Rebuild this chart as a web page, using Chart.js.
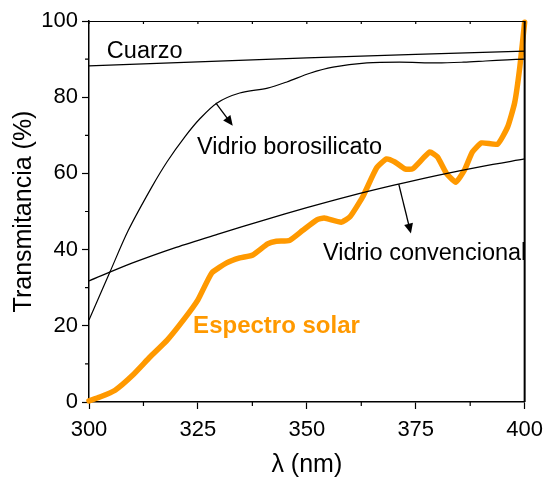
<!DOCTYPE html>
<html>
<head>
<meta charset="utf-8">
<script src="https://cdn.jsdelivr.net/npm/chart.js@4.4.1/dist/chart.umd.min.js"></script>
<style>
  body { margin: 0; background: #fff; }
</style>
</head>
<body>
<canvas id="myChart" width="551" height="480"></canvas>
<script>
// datos
const cuarzoX = [300, 350, 400];
const cuarzoY = [88.2, 90.3, 92.1];

const boroX = [300, 304.8, 309, 314.4, 318, 322, 325.5, 329.4, 334.6, 341, 345.4, 350.7, 356, 363.8, 371.3, 380, 386, 391, 396, 400];
const boroY = [21.5, 34.1, 45, 56.4, 63.2, 69.6, 74.4, 78.5, 81.1, 82.4, 84, 86.3, 87.9, 89, 89.2, 89, 89.2, 89.5, 89.8, 90];

const convX = [300, 310, 320, 330, 340, 350, 360, 370, 380, 390, 400];
const convY = [31.8, 36.5, 40.6, 44.2, 47.7, 51, 54.1, 56.9, 59.5, 61.8, 63.8];

const solarX = [300, 302.5, 306, 310, 314, 318, 322, 325, 328.2, 331.6, 334.6, 337.6, 341, 343, 346, 349, 352.3, 354, 357.9, 359.9, 362.8, 366, 368.3, 370.2, 372.5, 374.3, 378.2, 380, 382, 384.2, 386.2, 388, 390.1, 393.8, 396.1, 397.7, 398.9, 400];
const solarY = [0.3, 1.3, 3.1, 7, 11.8, 16.3, 22, 26.8, 33.9, 36.5, 37.8, 38.6, 41.5, 42.2, 42.4, 45, 47.8, 48.3, 47.2, 48.6, 53.8, 61.4, 63.8, 63, 61.2, 61.2, 65.6, 64.3, 60.1, 57.7, 60.9, 65.6, 68, 67.7, 72.2, 78.5, 88, 99.7];

const xTicks = [300, 325, 350, 375, 400];
const xMinor = [312.5, 337.5, 362.5, 387.5];
const yTicks = [0, 20, 40, 60, 80, 100];
const yMinor = [10, 30, 50, 70, 90];

// textos y flechas (coordenadas de datos)
const labels = [
    { text: 'Cuarzo', x: 304.1, y: 91.9, color: '#000', bold: false },
    { text: 'Vidrio borosilicato', x: 324.8, y: 66.9, color: '#000', bold: false },
    { text: 'Vidrio convencional', x: 353.7, y: 39.1, color: '#000', bold: false },
    { text: 'Espectro solar', x: 323.9, y: 19.9, color: 'rgb(255,153,0)', bold: true }
];
const arrows = [
    { x1: 329.1, y1: 78.5, x2: 333.0, y2: 72.5 },
    { x1: 371.1, y1: 57.2, x2: 373.9, y2: 44.2 }
];

const FONT = "'Liberation Sans', Arial, sans-serif";

function pts(xs, ys) {
    return xs.map((x, i) => ({ x: x, y: ys[i] }));
}

const extras = {
    id: 'extras',
    afterDraw(chart) {
        const ctx = chart.ctx;
        const xs = chart.scales.x, ys = chart.scales.y;
        const a = chart.chartArea;
        ctx.save();
        ctx.strokeStyle = '#000';
        // marco superior y derecho
        ctx.lineWidth = 1;
        ctx.beginPath();
        ctx.moveTo(a.left, a.top + 0.5);
        ctx.lineTo(a.right, a.top + 0.5);
        ctx.stroke();
        ctx.lineWidth = 2;
        ctx.beginPath();
        ctx.moveTo(a.right, a.top);
        ctx.lineTo(a.right, a.bottom);
        ctx.stroke();
        // ticks menores
        ctx.lineWidth = 1.2;
        ctx.beginPath();
        xMinor.forEach(v => {
            const px = xs.getPixelForValue(v);
            ctx.moveTo(px, a.bottom);
            ctx.lineTo(px, a.bottom + 4);
        });
        yMinor.forEach(v => {
            const py = ys.getPixelForValue(v);
            ctx.moveTo(a.left, py);
            ctx.lineTo(a.left - 4, py);
        });
        // ticks arriba hacia dentro
        xTicks.concat(xMinor).forEach(v => {
            const px = xs.getPixelForValue(v);
            ctx.moveTo(px, a.top);
            ctx.lineTo(px, a.top + 3);
        });
        ctx.stroke();
        // flechas
        ctx.lineWidth = 1.3;
        ctx.fillStyle = '#000';
        arrows.forEach(r => {
            const x1 = xs.getPixelForValue(r.x1), y1 = ys.getPixelForValue(r.y1);
            const x2 = xs.getPixelForValue(r.x2), y2 = ys.getPixelForValue(r.y2);
            const ang = Math.atan2(y2 - y1, x2 - x1);
            ctx.beginPath();
            ctx.moveTo(x1, y1);
            ctx.lineTo(x2 - 6 * Math.cos(ang), y2 - 6 * Math.sin(ang));
            ctx.stroke();
            ctx.beginPath();
            ctx.moveTo(x2, y2);
            ctx.lineTo(x2 - 10 * Math.cos(ang) + 4.5 * Math.sin(ang), y2 - 10 * Math.sin(ang) - 4.5 * Math.cos(ang));
            ctx.lineTo(x2 - 10 * Math.cos(ang) - 4.5 * Math.sin(ang), y2 - 10 * Math.sin(ang) + 4.5 * Math.cos(ang));
            ctx.closePath();
            ctx.fill();
        });
        // textos
        ctx.textAlign = 'left';
        ctx.textBaseline = 'middle';
        labels.forEach(l => {
            ctx.font = (l.bold ? 'bold 24px ' : '23.5px ') + FONT;
            ctx.fillStyle = l.color;
            ctx.fillText(l.text, xs.getPixelForValue(l.x), ys.getPixelForValue(l.y));
        });
        ctx.restore();
    }
};

const lineBase = { showLine: true, pointRadius: 0, fill: false, tension: 0.3 };

const config = {
    type: 'scatter',
    data: {
        datasets: [
            Object.assign({ label: 'Cuarzo', data: pts(cuarzoX, cuarzoY), borderColor: '#000', borderWidth: 1.2 }, lineBase),
            Object.assign({ label: 'Vidrio borosilicato', data: pts(boroX, boroY), borderColor: '#000', borderWidth: 1.2 }, lineBase),
            Object.assign({ label: 'Vidrio convencional', data: pts(convX, convY), borderColor: '#000', borderWidth: 1.3 }, lineBase),
            Object.assign({}, lineBase, { label: 'Espectro solar', data: pts(solarX, solarY), borderColor: 'rgb(255,153,0)', borderWidth: 5.5, tension: 0.15, borderJoinStyle: 'round', borderCapStyle: 'round', clip: 4 })
        ]
    },
    options: {
        responsive: false,
        animation: false,
        maintainAspectRatio: false,
        layout: { padding: { top: 21, right: 26, left: 0, bottom: 0 } },
        plugins: { legend: { display: false }, tooltip: { enabled: false } },
        scales: {
            x: {
                type: 'linear', min: 300, max: 400,
                afterBuildTicks: s => { s.ticks = xTicks.map(v => ({ value: v })); },
                afterFit: s => { s.height = 78; },
                grid: { drawOnChartArea: false, tickLength: 7, tickWidth: 1.2, tickColor: '#000' },
                border: { display: true, color: '#000', width: 1.5 },
                ticks: { color: '#000', font: { family: FONT, size: 22 }, padding: 8, maxRotation: 0 },
                title: { display: true, text: 'λ (nm)', color: '#000', font: { family: FONT, size: 25 }, padding: 0 }
            },
            y: {
                type: 'linear', min: 0, max: 100,
                afterBuildTicks: s => { s.ticks = yTicks.map(v => ({ value: v })); },
                afterFit: s => { s.width = 89; },
                grid: { drawOnChartArea: false, tickLength: 7, tickWidth: 1.2, tickColor: '#000' },
                border: { display: true, color: '#000', width: 1.5 },
                ticks: { color: '#000', font: { family: FONT, size: 22 }, padding: 4 },
                title: { display: true, text: 'Transmitancia (%)', color: '#000', font: { family: FONT, size: 25 }, padding: { top: 9, bottom: 0 } }
            }
        }
    },
    plugins: [extras]
};

new Chart(document.getElementById('myChart'), config);
</script>
</body>
</html>
